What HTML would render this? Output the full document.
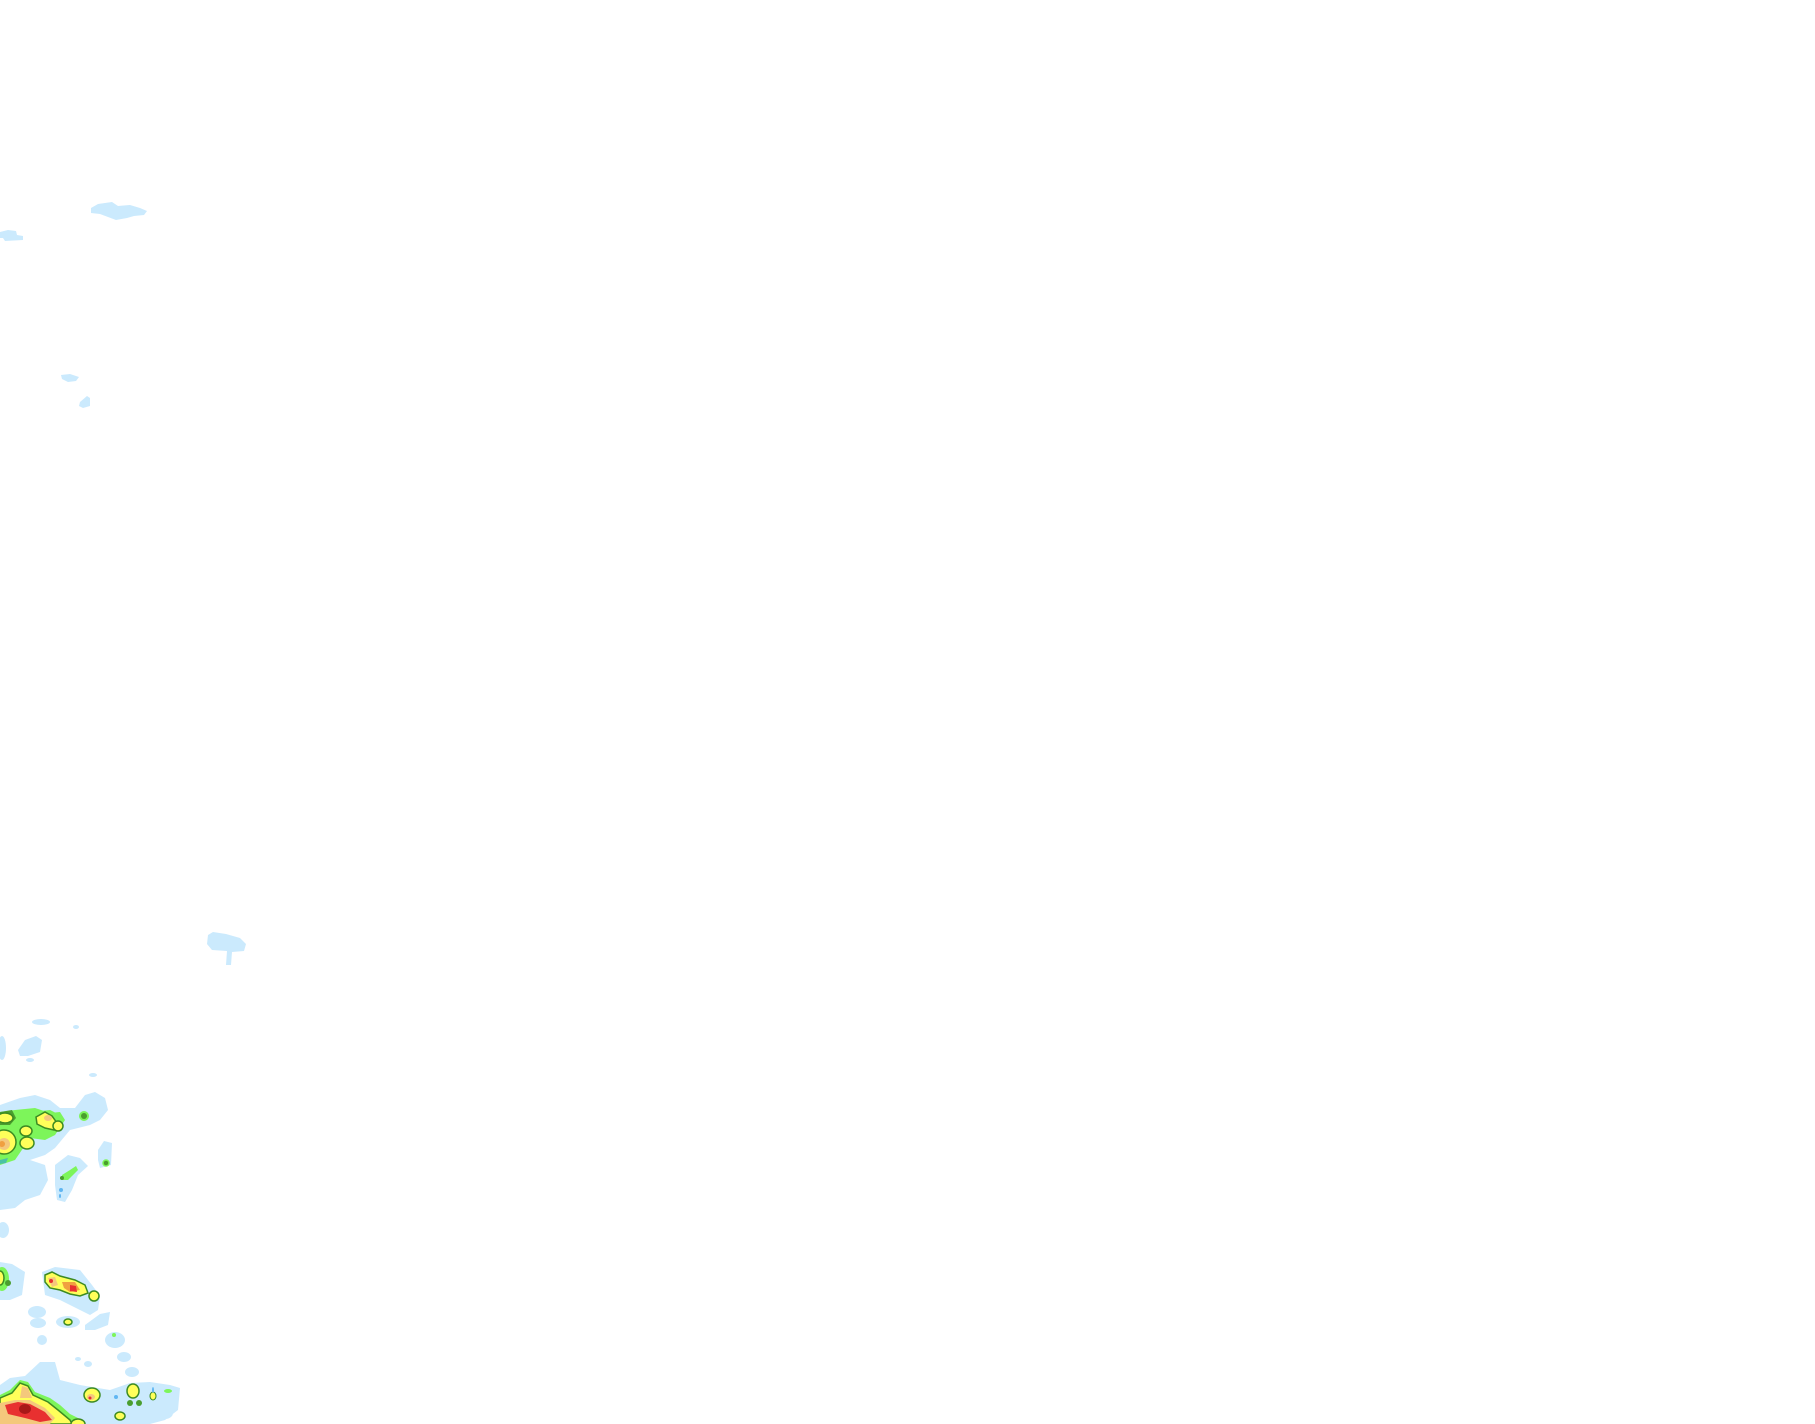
<!DOCTYPE html>
<html><head><meta charset="utf-8"><style>
html,body{margin:0;padding:0;background:#fff;}
svg{display:block;}
</style></head><body>
<svg width="1815" height="1424" viewBox="0 0 1815 1424" xmlns="http://www.w3.org/2000/svg">
<g fill="#cbeafd">
<!-- top blobs -->
<path d="M91 208 L98 204 L112 202 L118 206 L130 205 L140 208 L147 211 L144 215 L134 216 L127 218 L116 220 L108 217 L100 214 L91 213Z"/>
<path d="M0 232 L8 230 L16 231 L17 235 L23 236 L23 240 L5 241 L3 238 L0 238Z"/>
<path d="M61 375 L70 374 L79 377 L76 381 L68 382 L62 379Z"/>
<path d="M80 402 L87 396 L90 398 L90 406 L83 408 L79 406Z"/>
<!-- mid blob -->
<path d="M208 935 L213 932 L226 934 L240 938 L246 944 L244 951 L232 952 L231 965 L226 965 L227 951 L212 950 L207 944Z"/>
<!-- lower small -->
<ellipse cx="41" cy="1022" rx="9" ry="3"/>
<ellipse cx="76" cy="1027" rx="3" ry="2"/>
<path d="M18 1050 L25 1040 L36 1036 L42 1040 L40 1052 L28 1056 L20 1056Z"/>
<ellipse cx="2" cy="1048" rx="4" ry="12"/>
<ellipse cx="30" cy="1060" rx="4" ry="2"/>
<ellipse cx="93" cy="1075" rx="4" ry="2"/>
<!-- large light region -->
<path d="M0 1105 L20 1098 L35 1095 L50 1100 L60 1108 L75 1108 L85 1095 L95 1092 L105 1098 L108 1110 L100 1120 L90 1125 L70 1130 L55 1148 L45 1155 L30 1160 L45 1165 L48 1180 L40 1195 L25 1200 L15 1208 L0 1210Z"/>
<path d="M55 1165 L68 1155 L80 1158 L88 1166 L78 1175 L72 1190 L65 1202 L57 1200 L55 1185Z"/>
<path d="M98 1150 L104 1141 L112 1143 L111 1165 L100 1168 L98 1160Z"/>
<ellipse cx="3" cy="1230" rx="6" ry="8"/>
<path d="M0 1262 L12 1264 L25 1272 L22 1295 L10 1300 L0 1300Z"/>
<path d="M42 1272 L55 1267 L80 1270 L92 1285 L100 1296 L98 1310 L90 1315 L60 1300 L45 1295Z"/>
<ellipse cx="37" cy="1312" rx="9" ry="6"/>
<ellipse cx="38" cy="1323" rx="8" ry="5"/>
<ellipse cx="68" cy="1322" rx="12" ry="6"/>
<path d="M85 1325 L100 1314 L110 1312 L108 1325 L95 1330 L85 1330Z"/>
<ellipse cx="115" cy="1340" rx="10" ry="8"/>
<ellipse cx="42" cy="1340" rx="5" ry="5"/>
<ellipse cx="124" cy="1357" rx="7" ry="5"/>
<ellipse cx="78" cy="1359" rx="3" ry="2"/>
<ellipse cx="88" cy="1364" rx="4" ry="3"/>
<ellipse cx="132" cy="1372" rx="7" ry="5"/>
<path d="M0 1385 L10 1378 L25 1376 L40 1362 L55 1362 L60 1380 L80 1385 L110 1390 L130 1383 L150 1382 L170 1385 L180 1388 L178 1410 L165 1420 L150 1424 L0 1424Z"/>
<ellipse cx="165" cy="1413" rx="8" ry="6"/>
</g>
<!-- colored cells: blue outline, green, dark green, yellow, orange, red -->
<g>
<!-- top-left cluster -->
<path fill="#7df55a" d="M0 1112 L15 1110 L35 1108 L50 1113 L60 1112 L65 1120 L55 1135 L45 1140 L30 1138 L15 1160 L0 1165Z"/>
<path fill="#7df55a" d="M32 1112 L50 1110 L60 1115 L62 1125 L52 1132 L38 1128Z"/>
<path fill="#1a8df0" opacity="0.5" d="M0 1160 L8 1158 L6 1163 L0 1164Z"/>
<path fill="#4a9e2e" d="M0 1112 L12 1110 L16 1118 L10 1125 L0 1125Z"/>
<ellipse cx="5" cy="1118" rx="8" ry="5" fill="#ffff5a" stroke="#3c8a22" stroke-width="1.5"/>
<ellipse cx="4" cy="1142" rx="12" ry="12" fill="#ffff5a" stroke="#3c8a22" stroke-width="1.5"/>
<ellipse cx="4" cy="1144" rx="6" ry="6" fill="#f4c87c"/>
<ellipse cx="2" cy="1144" rx="3" ry="3" fill="#f0a040"/>
<path d="M36 1117 L45 1112 L52 1116 L57 1123 L54 1130 L45 1128 L37 1124Z" fill="#ffff5a" stroke="#3c8a22" stroke-width="1.5"/>
<ellipse cx="48" cy="1118" rx="4" ry="3" fill="#f4c87c"/>
<ellipse cx="58" cy="1126" rx="5" ry="5" fill="#ffff5a" stroke="#3c8a22" stroke-width="1.5"/>
<ellipse cx="26" cy="1131" rx="6" ry="5" fill="#ffff5a" stroke="#3c8a22" stroke-width="1.5"/>
<ellipse cx="27" cy="1143" rx="7" ry="6" fill="#ffff5a" stroke="#3c8a22" stroke-width="1.5"/>
<ellipse cx="84" cy1="" cy="1116" rx="5" ry="5" fill="#7df55a"/>
<ellipse cx="84" cy="1116" rx="3" ry="3" fill="#4a9e2e"/>
<path d="M62 1175 L70 1170 L76 1166 L78 1170 L72 1176 L68 1180 L62 1180Z" fill="#7df55a"/>
<ellipse cx="62" cy="1178" rx="2" ry="2" fill="#4a9e2e"/>
<ellipse cx="106" cy="1163" rx="3" ry="3" fill="#4a9e2e" stroke="#7df55a" stroke-width="1.5"/>
<ellipse cx="61" cy="1190" rx="2" ry="2" fill="#60b6f2"/>
<ellipse cx="60" cy="1196" rx="1" ry="2" fill="#60b6f2"/>
<!-- second cluster -->
<ellipse cx="2" cy="1279" rx="7" ry="12" fill="#7df55a"/>
<ellipse cx="0" cy="1278" rx="4" ry="7" fill="#ffff5a" stroke="#3c8a22" stroke-width="1.5"/>
<ellipse cx="8" cy="1283" rx="3" ry="3" fill="#4a9e2e"/>
<path d="M45 1275 L52 1272 L60 1276 L75 1280 L85 1285 L88 1293 L80 1296 L70 1294 L60 1290 L50 1288 L45 1282Z" fill="#ffff5a" stroke="#3c8a22" stroke-width="1.5"/>
<path d="M48 1278 L55 1277 L58 1285 L52 1287Z" fill="#f4c87c"/>
<path d="M62 1282 L75 1282 L80 1290 L70 1292 L64 1288Z" fill="#f0a040"/>
<ellipse cx="51" cy="1281" rx="2" ry="2" fill="#e83030"/>
<path d="M70 1285 L76 1286 L77 1292 L70 1291Z" fill="#e83030"/>
<ellipse cx="94" cy="1296" rx="5" ry="5" fill="#ffff5a" stroke="#3c8a22" stroke-width="1.5"/>
<ellipse cx="68" cy="1322" rx="4" ry="3" fill="#ffff5a" stroke="#3c8a22" stroke-width="1.5"/>
<ellipse cx="114" cy="1335" rx="2" ry="2" fill="#7df55a"/>
<!-- bottom cluster -->
<path d="M0 1395 L10 1390 L20 1380 L28 1382 L35 1392 L50 1398 L60 1405 L70 1414 L82 1420 L85 1424 L0 1424Z" fill="#7df55a"/>
<path d="M0 1398 L12 1393 L20 1383 L28 1386 L33 1395 L48 1402 L58 1410 L70 1420 L72 1424 L0 1424Z" fill="#ffff5a" stroke="#3c8a22" stroke-width="1.5"/>
<path d="M22 1386 L28 1388 L32 1398 L20 1398Z" fill="#f4c87c"/>
<path d="M0 1403 L15 1400 L30 1400 L45 1408 L55 1418 L50 1424 L0 1424Z" fill="#f4c87c"/>
<path d="M5 1405 L18 1402 L30 1404 L45 1412 L52 1420 L40 1422 L25 1418 L8 1414Z" fill="#e83030"/>
<ellipse cx="25" cy="1409" rx="6" ry="5" fill="#a81818"/>
<ellipse cx="78" cy="1424" rx="7" ry="5" fill="#ffff5a" stroke="#3c8a22" stroke-width="1.5"/>
<ellipse cx="92" cy="1395" rx="8" ry="7" fill="#ffff5a" stroke="#3c8a22" stroke-width="1.5"/>
<ellipse cx="91" cy="1397" rx="4" ry="3" fill="#f4c87c"/>
<ellipse cx="90" cy="1398" rx="1.5" ry="1.5" fill="#e83030"/>
<ellipse cx="116" cy="1397" rx="2" ry="2" fill="#60b6f2"/>
<ellipse cx="133" cy="1391" rx="6" ry="7" fill="#ffff5a" stroke="#3c8a22" stroke-width="1.5"/>
<ellipse cx="130" cy="1403" rx="3" ry="3" fill="#4a9e2e"/>
<ellipse cx="139" cy="1403" rx="3" ry="3" fill="#4a9e2e"/>
<ellipse cx="153" cy="1396" rx="3" ry="4" fill="#ffff5a" stroke="#3c8a22" stroke-width="1"/>
<ellipse cx="153" cy="1390" rx="1" ry="3" fill="#60b6f2"/>
<ellipse cx="168" cy="1391" rx="4" ry="2" fill="#7df55a"/>
<ellipse cx="120" cy="1416" rx="5" ry="4" fill="#ffff5a" stroke="#3c8a22" stroke-width="1.5"/>
</g>
</svg>
</body></html>
